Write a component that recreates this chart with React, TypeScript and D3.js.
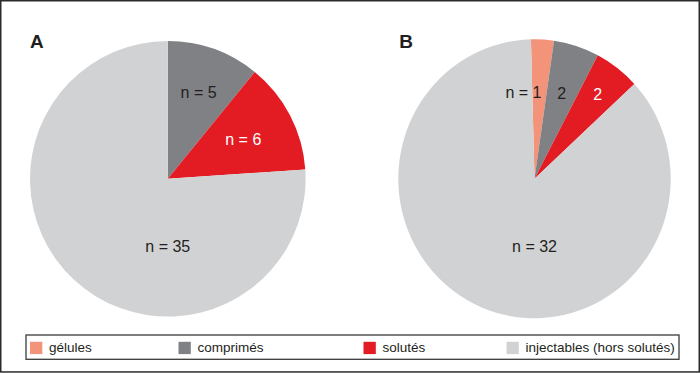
import React from "react";
import * as d3 from "d3";

const categories = ["gélules", "comprimés", "solutés", "injectables (hors solutés)"];
const colors = ["#F3937A", "#808184", "#E31B23", "#D1D2D4"];
const valuesA = [0, 5, 6, 35];
const valuesB = [1, 2, 2, 32];
const labelsA = ["", "n = 5", "n = 6", "n = 35"];
const labelsB = ["n = 1", "2", "2", "n = 32"];

const W = 700;
const H = 373;
const FONT = "'Liberation Sans', Arial, Helvetica, sans-serif";

type LabelCfg = { r: number | null; dx: number; dy: number; anchor: string; fill: string };

function Pie({ values, labels, cx, cy, rx, ry, start, title, titleX, cfg }: {
  values: number[]; labels: string[]; cx: number; cy: number; rx: number; ry: number;
  start: number; title: string; titleX: number; cfg: LabelCfg[];
}) {
  const pie = d3.pie<number>().sort(null).value((d) => d)
    .startAngle((start * Math.PI) / 180)
    .endAngle((start * Math.PI) / 180 + 2 * Math.PI);
  const arcs = pie(values);
  const arc = d3.arc<d3.PieArcDatum<number>>().innerRadius(0).outerRadius(rx);
  const sy = ry / rx;
  return (
    <g>
      <text x={titleX} y={47.5} fontFamily={FONT} fontWeight="bold" fontSize={19} fill="#231F20">{title}</text>
      <g transform={`translate(${cx},${cy}) scale(1,${sy})`}>
        {arcs.map((a, i) => a.value > 0 ? (
          <path key={i} d={arc(a) || ""} fill={colors[i]} />
        ) : null)}
      </g>
      {arcs.map((a, i) => {
        const c = cfg[i];
        if (!labels[i]) return null;
        let x: number, y: number;
        if (c.r === null) {
          x = cx + c.dx;
          y = cy + c.dy;
        } else {
          const mid = (a.startAngle + a.endAngle) / 2;
          x = cx + Math.sin(mid) * c.r + c.dx;
          y = cy - Math.cos(mid) * c.r * sy + c.dy;
        }
        return (
          <text key={"l" + i} x={x} y={y} textAnchor={c.anchor} dominantBaseline="central"
            fontFamily={FONT} fontSize={16} fill={c.fill}>{labels[i]}</text>
        );
      })}
    </g>
  );
}

export default function App() {
  const dark = "#231F20";
  const cfgA: LabelCfg[] = [
    { r: 92, dx: 0, dy: 0, anchor: "middle", fill: dark },
    { r: 92, dx: 0, dy: 0, anchor: "middle", fill: dark },
    { r: 85, dx: 0, dy: 0, anchor: "middle", fill: "#FFFFFF" },
    { r: null, dx: 0, dy: 68, anchor: "middle", fill: dark },
  ];
  const cfgB: LabelCfg[] = [
    { r: 84, dx: 2, dy: 0, anchor: "end", fill: dark },
    { r: 88, dx: 0, dy: 0, anchor: "middle", fill: dark },
    { r: 104, dx: 0, dy: 0, anchor: "middle", fill: "#FFFFFF" },
    { r: null, dx: 0, dy: 68, anchor: "middle", fill: dark },
  ];
  const legendX = [30, 178.5, 363.5, 506.5];
  return (
    <svg width={W} height={H} style={{ position: "absolute", left: 0, top: 0 }}>
      <rect x={0} y={0} width={W} height={H} fill="#FFFFFF" />
      <rect x={0.75} y={0.75} width={W - 1.5} height={H - 1.8} fill="none" stroke="#2B2B2B" strokeWidth={1.5} />
      <Pie values={valuesA} labels={labelsA} cx={167.8} cy={178.8} rx={137.8} ry={137.8}
        start={0} title="A" titleX={30} cfg={cfgA} />
      <Pie values={valuesB} labels={labelsB} cx={534.5} cy={178.8} rx={136.2} ry={139.5}
        start={-1.5} title="B" titleX={399.3} cfg={cfgB} />
      <rect x={26} y={335} width={653} height={24.3} fill="none" stroke="#3A3A3A" strokeWidth={1.3} />
      {categories.map((c, i) => (
        <g key={c}>
          <rect x={legendX[i]} y={341.8} width={12.3} height={12.3} fill={colors[i]} />
          <text x={legendX[i] + 19} y={351.8} fontFamily={FONT} fontSize={13.5} fill={dark}>{c}</text>
        </g>
      ))}
    </svg>
  );
}
